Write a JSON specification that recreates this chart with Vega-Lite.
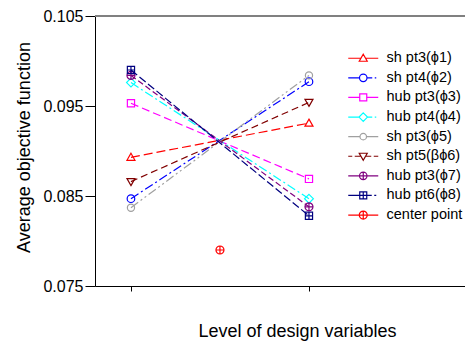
{
  "$schema": "https://vega.github.io/schema/vega-lite/v6.json",
  "width": 370,
  "height": 270,
  "autosize": "none",
  "padding": {"left": 95, "top": 16, "right": 0, "bottom": 56},
  "background": "white",
  "config": {
    "view": {"stroke": null},
    "font": "Liberation Sans",
    "axis": {"domainColor": "black", "tickColor": "black", "grid": false, "labelColor": "black", "titleColor": "black", "titleFontWeight": "normal", "labelFont": "Liberation Sans", "titleFont": "Liberation Sans"},
    "line": {"strokeWidth": 1.2},
    "point": {"filled": false, "size": 64, "strokeWidth": 1.2, "opacity": 1},
    "legend": {
      "orient": "none",
      "legendX": 261,
      "legendY": 35,
      "padding": 0,
      "symbolSize": 100,
      "symbolStrokeWidth": 1,
      "symbolFillColor": "transparent",
      "labelFontSize": 14.5,
      "labelFont": "Liberation Sans",
      "labelColor": "black",
      "labelOffset": 16,
      "labelLimit": 200,
      "rowPadding": 4.6
    }
  },
  "data": {
    "values": [
      {"series": "sh pt3(ϕ1)", "level": -1, "value": 0.0893},
      {"series": "sh pt3(ϕ1)", "level": 1, "value": 0.0931},
      {"series": "sh pt4(ϕ2)", "level": -1, "value": 0.0847},
      {"series": "sh pt4(ϕ2)", "level": 1, "value": 0.0977},
      {"series": "hub pt3(ϕ3)", "level": -1, "value": 0.0953},
      {"series": "hub pt3(ϕ3)", "level": 1, "value": 0.0869},
      {"series": "hub pt4(ϕ4)", "level": -1, "value": 0.0976},
      {"series": "hub pt4(ϕ4)", "level": 1, "value": 0.0847},
      {"series": "sh pt3(ϕ5)", "level": -1, "value": 0.0837},
      {"series": "sh pt3(ϕ5)", "level": 1, "value": 0.0984},
      {"series": "sh pt5(βϕ6)", "level": -1, "value": 0.0866},
      {"series": "sh pt5(βϕ6)", "level": 1, "value": 0.0954},
      {"series": "hub pt3(ϕ7)", "level": -1, "value": 0.0984},
      {"series": "hub pt3(ϕ7)", "level": 1, "value": 0.0838},
      {"series": "hub pt6(ϕ8)", "level": -1, "value": 0.0990},
      {"series": "hub pt6(ϕ8)", "level": 1, "value": 0.0828},
      {"series": "center point", "level": 0, "value": 0.0790}
    ]
  },
  "encoding": {
    "x": {
      "field": "level", "type": "quantitative",
      "scale": {"domain": [-1.404, 2.753], "nice": false, "zero": false},
      "axis": {"values": [-1, 1], "labels": false, "tickSize": 5, "title": "Level of design variables", "titleFontSize": 18, "titleX": 202, "titleY": 50, "titleBaseline": "alphabetic", "titleAnchor": "middle"}
    },
    "y": {
      "field": "value", "type": "quantitative",
      "scale": {"domain": [0.075, 0.105], "nice": false, "zero": false},
      "axis": {"values": [0.075, 0.085, 0.095, 0.105], "format": ".3f", "tickSize": 10, "labelPadding": 2, "labelFontSize": 16, "title": "Average objective function", "titleFontSize": 18, "titleX": -66, "titleY": 131, "titleBaseline": "alphabetic"}
    },
    "color": {
      "field": "series", "type": "nominal",
      "legend": {"title": null},
      "scale": {
        "domain": ["sh pt3(ϕ1)", "sh pt4(ϕ2)", "hub pt3(ϕ3)", "hub pt4(ϕ4)", "sh pt3(ϕ5)", "sh pt5(βϕ6)", "hub pt3(ϕ7)", "hub pt6(ϕ8)", "center point"],
        "range": ["#FF0000", "#0000FF", "#FF00FF", "#00FFFF", "#A0A0A0", "#800000", "#800080", "#000080", "#FF0000"]
      }
    }
  },
  "layer": [
    {
      "mark": {"type": "rule", "color": "#808080", "strokeWidth": 2},
      "encoding": {"y": {"datum": 0.105, "type": "quantitative"}, "x": null, "color": null}
    },
    {
      "transform": [{"filter": "datum.series === 'sh pt3(ϕ1)'"}],
      "layer": [
        {"mark": {"type": "line", "strokeDash": [9, 4]}},
        {"mark": {"type": "point", "shape": "M0,-1L1,0.75L-1,0.75Z"}}
      ]
    },
    {
      "transform": [{"filter": "datum.series === 'sh pt4(ϕ2)'"}],
      "layer": [
        {"mark": {"type": "line", "strokeDash": [9, 3, 2, 3]}},
        {"mark": {"type": "point", "shape": "M-0.95,0A0.95,0.95,0,1,0,0.95,0A0.95,0.95,0,1,0,-0.95,0Z"}}
      ]
    },
    {
      "transform": [{"filter": "datum.series === 'hub pt3(ϕ3)'"}],
      "layer": [
        {"mark": {"type": "line", "strokeDash": [8, 4]}},
        {"mark": {"type": "point", "shape": "M-0.9,-0.9H0.9V0.9H-0.9Z"}}
      ]
    },
    {
      "transform": [{"filter": "datum.series === 'hub pt4(ϕ4)'"}],
      "layer": [
        {"mark": {"type": "line", "strokeDash": [9, 3, 2, 3]}},
        {"mark": {"type": "point", "shape": "M0,-1.1L1.1,0L0,1.1L-1.1,0Z"}}
      ]
    },
    {
      "transform": [{"filter": "datum.series === 'sh pt3(ϕ5)'"}],
      "layer": [
        {"mark": {"type": "line", "strokeDash": [9, 3, 2, 3, 2, 3]}},
        {"mark": {"type": "point", "shape": "M-0.9,0A0.9,0.9,0,1,0,0.9,0A0.9,0.9,0,1,0,-0.9,0Z"}}
      ]
    },
    {
      "transform": [{"filter": "datum.series === 'sh pt5(βϕ6)'"}],
      "layer": [
        {"mark": {"type": "line", "strokeDash": [7, 4]}},
        {"mark": {"type": "point", "shape": "M0,1L1,-0.75L-1,-0.75Z"}}
      ]
    },
    {
      "transform": [{"filter": "datum.series === 'hub pt3(ϕ7)'"}],
      "layer": [
        {"mark": {"type": "line", "strokeDash": [6, 3]}},
        {"mark": {"type": "point", "shape": "M-1,0H1M0,-1V1M-1,0A1,1,0,1,0,1,0A1,1,0,1,0,-1,0Z"}}
      ]
    },
    {
      "transform": [{"filter": "datum.series === 'hub pt6(ϕ8)'"}],
      "layer": [
        {"mark": {"type": "line", "strokeDash": [8, 3]}},
        {"mark": {"type": "point", "shape": "M-0.9,0H0.9M0,-0.9V0.9M-0.9,-0.9H0.9V0.9H-0.9Z"}}
      ]
    },
    {
      "transform": [{"filter": "datum.series === 'center point'"}],
      "mark": {"type": "point", "shape": "M-1,0H1M0,-1V1M-1,0A1,1,0,1,0,1,0A1,1,0,1,0,-1,0Z"}
    },
    {
      "transform": [{"filter": "false"}],
      "mark": {"type": "point", "strokeWidth": 1},
      "encoding": {
        "shape": {
          "field": "series", "type": "nominal",
          "legend": {"title": null},
          "scale": {
            "domain": ["sh pt3(ϕ1)", "sh pt4(ϕ2)", "hub pt3(ϕ3)", "hub pt4(ϕ4)", "sh pt3(ϕ5)", "sh pt5(βϕ6)", "hub pt3(ϕ7)", "hub pt6(ϕ8)", "center point"],
            "range": [
              "M-3,0H-0.5M0.5,0H3M0,-0.8L0.8,0.6L-0.8,0.6Z",
              "M-3,0H-0.75M0.75,0H1.8M2.3,0H2.6M-0.75,0A0.75,0.75,0,1,0,0.75,0A0.75,0.75,0,1,0,-0.75,0Z",
              "M-3,0H-0.7M0.7,0H3M-0.7,-0.7H0.7V0.7H-0.7Z",
              "M-3,0H-0.85M0.85,0H1.8M2.3,0H2.6M0,-0.85L0.85,0L0,0.85L-0.85,0Z",
              "M-3,0H-0.65M0.65,0H3M-0.65,0A0.65,0.65,0,1,0,0.65,0A0.65,0.65,0,1,0,-0.65,0Z",
              "M-3,0H-2.2M-1.7,0H-0.5M0.5,0H1.6M2.1,0H3M0,0.8L0.8,-0.6L-0.8,-0.6Z",
              "M-3,0H3M0,-0.75V0.75M-0.75,0A0.75,0.75,0,1,0,0.75,0A0.75,0.75,0,1,0,-0.75,0Z",
              "M-3,0H1.7M2.2,0H2.6M0,-0.7V0.7M-0.7,-0.7H0.7V0.7H-0.7Z",
              "M-3,0H3M0,-0.8V0.8M-0.8,0A0.8,0.8,0,1,0,0.8,0A0.8,0.8,0,1,0,-0.8,0Z"
            ]
          }
        }
      }
    }
  ]
}
